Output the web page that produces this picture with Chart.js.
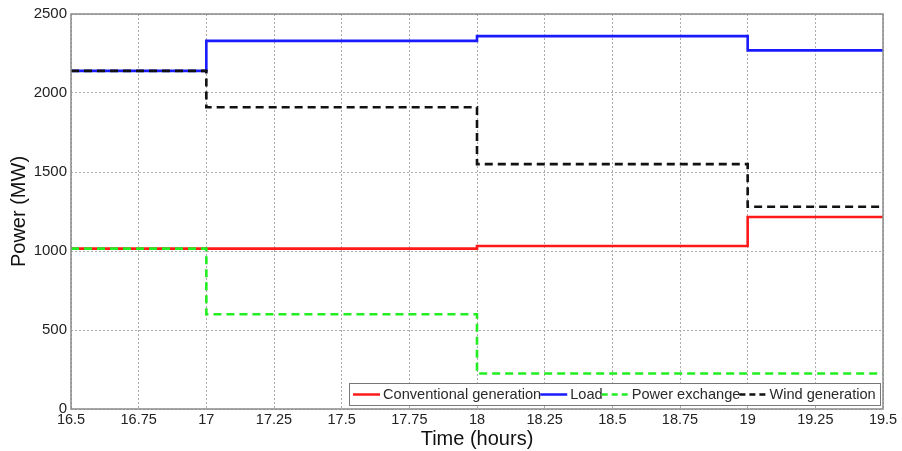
<!DOCTYPE html>
<html>
<head>
<meta charset="utf-8">
<script src="https://cdn.jsdelivr.net/npm/chart.js@4.4.1/dist/chart.umd.min.js"></script>
<style>
html,body{margin:0;padding:0;background:#fff;}
#wrap{width:902px;height:451px;position:relative;}
</style>
</head>
<body>
<div id="wrap"><canvas id="c" width="902" height="451"></canvas></div>
<script>
// Data (time in hours, power in MW)
const timePoints = [16.5, 17, 18, 19, 19.5];
const conventionalGeneration = [1015, 1015, 1032, 1215, 1215];
const load = [2140, 2330, 2360, 2270, 2270];
const powerExchange = [1015, 600, 225, 225, 225];
const windGeneration = [2140, 1910, 1550, 1280, 1280];
const seriesNames = ['Conventional generation', 'Load', 'Power exchange', 'Wind generation'];
const xTicks = [16.5, 16.75, 17, 17.25, 17.5, 17.75, 18, 18.25, 18.5, 18.75, 19, 19.25, 19.5];
const yTicks = [0, 500, 1000, 1500, 2000, 2500];

function pts(vals){ return timePoints.map((t,i)=>({x:t,y:vals[i]})); }

const FONT = "'Liberation Sans', Arial, sans-serif";

const framePlugin = {
  id:'frame',
  afterDatasetsDraw(chart){
    const {ctx, chartArea:a} = chart;
    ctx.save();
    ctx.strokeStyle = '#8a8a8a';
    ctx.lineWidth = 1.5;
    ctx.strokeRect(a.left, a.top, a.right-a.left, a.bottom-a.top);
    ctx.restore();
  }
};

const legendPlugin = {
  id:'boxLegend',
  afterDraw(chart){
    const {ctx} = chart;
    const bx = 349, by = 383, bw = 531, bh = 22;
    ctx.save();
    ctx.fillStyle = '#fff';
    ctx.fillRect(bx, by, bw, bh);
    ctx.strokeStyle = '#777';
    ctx.lineWidth = 1;
    ctx.strokeRect(bx+0.5, by+0.5, bw, bh);
    ctx.font = '14.6px ' + FONT;
    ctx.textBaseline = 'middle';
    let x = bx + 4;
    const cy = by + bh/2 + 0.5;
    chart.data.datasets.forEach(ds=>{
      ctx.strokeStyle = ds.borderColor;
      ctx.lineWidth = 2.5;
      ctx.setLineDash(ds.borderDash ? [6,4] : []);
      ctx.beginPath();
      ctx.moveTo(x, cy); ctx.lineTo(x+27, cy); ctx.stroke();
      ctx.setLineDash([]);
      x += 30;
      ctx.fillStyle = '#2a2a2a';
      ctx.fillText(ds.label, x, cy);
      x += ctx.measureText(ds.label).width - 1;
    });
    ctx.restore();
  }
};

new Chart(document.getElementById('c'), {
  type:'line',
  data:{
    datasets:[
      {label:seriesNames[0], order:3, data:pts(conventionalGeneration), borderColor:'#ff1a1a', borderWidth:2.6, stepped:'before', pointRadius:0, fill:false},
      {label:seriesNames[1], order:2, data:pts(load), borderColor:'#1a1aff', borderWidth:2.6, stepped:'before', pointRadius:0, fill:false},
      {label:seriesNames[2], order:1, data:pts(powerExchange), borderColor:'#22ee22', borderWidth:2.6, borderDash:[8,5], stepped:'before', pointRadius:0, fill:false},
      {label:seriesNames[3], order:0, data:pts(windGeneration), borderColor:'#111', borderWidth:2.6, borderDash:[8,5], stepped:'before', pointRadius:0, fill:false}
    ]
  },
  options:{
    responsive:false,
    animation:false,
    layout:{padding:{top:14, right:19, left:0, bottom:0}},
    plugins:{legend:{display:false}, tooltip:{enabled:false}},
    scales:{
      x:{
        type:'linear', min:16.5, max:19.5,
        afterBuildTicks(axis){ axis.ticks = xTicks.map(v=>({value:v})); },
        afterFit(axis){ axis.height = 42; },
        ticks:{autoSkip:false, maxRotation:0, padding:2, color:'#222', font:{family:FONT, size:14.5},
          callback:(v)=>String(v)},
        grid:{color:'#aaa', lineWidth:1, drawTicks:false, tickLength:0},
        border:{display:false, dash:[2,2]},
        title:{display:true, text:'Time (hours)', color:'#111', font:{family:FONT, size:20}, padding:{top:0,bottom:0}}
      },
      y:{
        min:0, max:2500,
        afterBuildTicks(axis){ axis.ticks = yTicks.map(v=>({value:v})); },
        afterFit(axis){ axis.width = 71; },
        ticks:{padding:4, color:'#222', font:{family:FONT, size:15}, callback:(v)=>String(v)},
        grid:{color:'#aaa', lineWidth:1, drawTicks:false, tickLength:0},
        border:{display:false, dash:[2,2]},
        title:{display:true, text:'Power (MW)', color:'#111', font:{family:FONT, size:20}, padding:{top:7,bottom:0}}
      }
    }
  },
  plugins:[framePlugin, legendPlugin]
});
</script>
</body>
</html>
